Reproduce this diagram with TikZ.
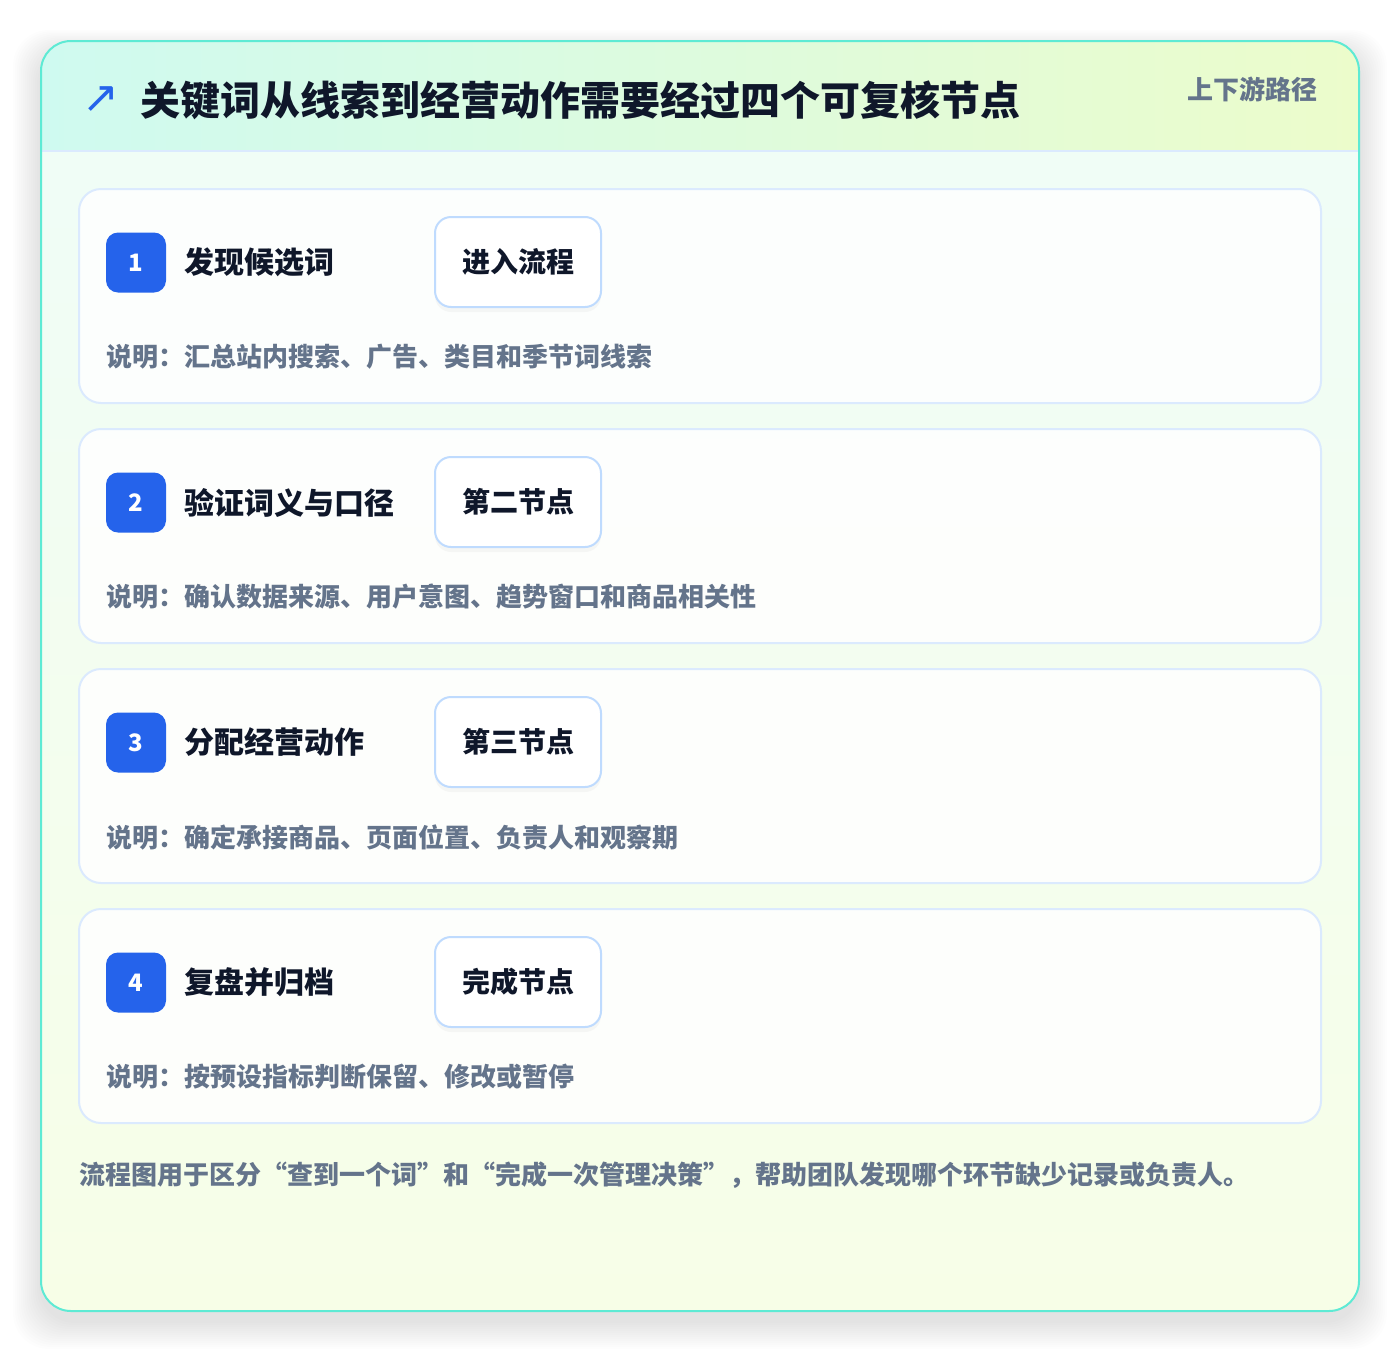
\documentclass[tikz,border=0pt]{standalone}
\usepackage{fontspec}
\setmainfont{Noto Sans CJK SC}
\newfontfamily\arrowfont{DejaVu Sans}
\usetikzlibrary{positioning,shadows}
\definecolor{rim}{HTML}{5EEAD4}
\definecolor{headL}{HTML}{CFFAF0}
\definecolor{headR}{HTML}{ECFCCB}
\definecolor{bodyT}{HTML}{EFFDF8}
\definecolor{bodyB}{HTML}{F7FEE7}
\definecolor{edge}{HTML}{DBEAFE}
\definecolor{tagedge}{HTML}{BFDBFE}
\definecolor{accent}{HTML}{2563EB}
\definecolor{ink}{HTML}{0F172A}
\definecolor{muted}{HTML}{64748B}

\begin{document}
\begin{tikzpicture}
	[x=1pt, y=-1pt,
	 card/.style={draw=edge, line width=2pt, fill=white, fill opacity=0.85, rounded corners=22pt},
	 badge/.style={fill=accent, rounded corners=12pt, minimum size=60pt, inner sep=0pt, text=white, font=\bfseries\fontsize{24}{28}\selectfont},
	 steptitle/.style={text=ink, inner sep=0pt, anchor=west, font=\bfseries\fontsize{30}{36}\selectfont},
	 tagbox/.style={draw=tagedge, line width=2pt, fill=white, rounded corners=16pt, minimum width=166pt, minimum height=90pt, text=ink, font=\bfseries\fontsize{28}{34}\selectfont, drop shadow={shadow xshift=0pt, shadow yshift=-5pt, opacity=0.06}},
	 note/.style={text=muted, inner sep=0pt, anchor=west, font=\bfseries\fontsize{26}{32}\selectfont}]

	\useasboundingbox[fill=white] (0,0) rectangle (1400,1352);
	% soft shadow under the panel
	\foreach \s in {1,...,14}
		\fill[black, opacity=0.006, rounded corners=36pt] (41-2*\s,51-1.5*\s) rectangle (1359+2*\s,1321+2*\s);

	% panel and header band
	\shade[top color=bodyT, bottom color=bodyB, rounded corners=30pt] (41,41) rectangle (1359,1311);
	\begin{scope}
		\clip[rounded corners=30pt] (41,41) rectangle (1359,1311);
		\shade[left color=headL, right color=headR] (41,41) rectangle (1359,151);
	\end{scope}
	\draw[edge, line width=2pt] (42,151) -- (1358,151);
	\draw[rim, line width=2pt, rounded corners=30pt] (41,41) rectangle (1359,1311);

	\node[anchor=west, inner sep=0pt, text=ink, font=\bfseries\fontsize{40}{48}\selectfont] (title) at (140,100) {关键词从线索到经营动作需要经过四个可复核节点};
	\node[left=20pt of title, inner sep=0pt, text=accent, font=\arrowfont\fontsize{44}{48}\selectfont] (icon) {↗};
	\node[anchor=east, inner sep=0pt, text=muted, font=\bfseries\fontsize{26}{32}\selectfont] (route) at (1318,89) {上下游路径};

	% the four steps
	\foreach \i/\ttl/\tg/\dsc in {1/发现候选词/进入流程/{说明：汇总站内搜索、广告、类目和季节词线索},
		2/验证词义与口径/第二节点/{说明：确认数据来源、用户意图、趋势窗口和商品相关性},
		3/分配经营动作/第三节点/{说明：确定承接商品、页面位置、负责人和观察期},
		4/复盘并归档/完成节点/{说明：按预设指标判断保留、修改或暂停}}{
		\pgfmathsetmacro\y{189+240*(\i-1)}
		\draw[card] (79,\y) rectangle +(1242,214);
		\node[badge] (B\i) at (136,\y+73.5) {\i};
		\node[steptitle, right=18pt of B\i] (S\i) {\ttl};
		\node[tagbox] (T\i) at (518,\y+73) {\tg};
		\node[note] (D\i) at (106,\y+168) {\dsc};
	}

	\node[note] (summary) at (79,1175) {流程图用于区分“查到一个词”和“完成一次管理决策”，帮助团队发现哪个环节缺少记录或负责人。};
\end{tikzpicture}
\end{document}
